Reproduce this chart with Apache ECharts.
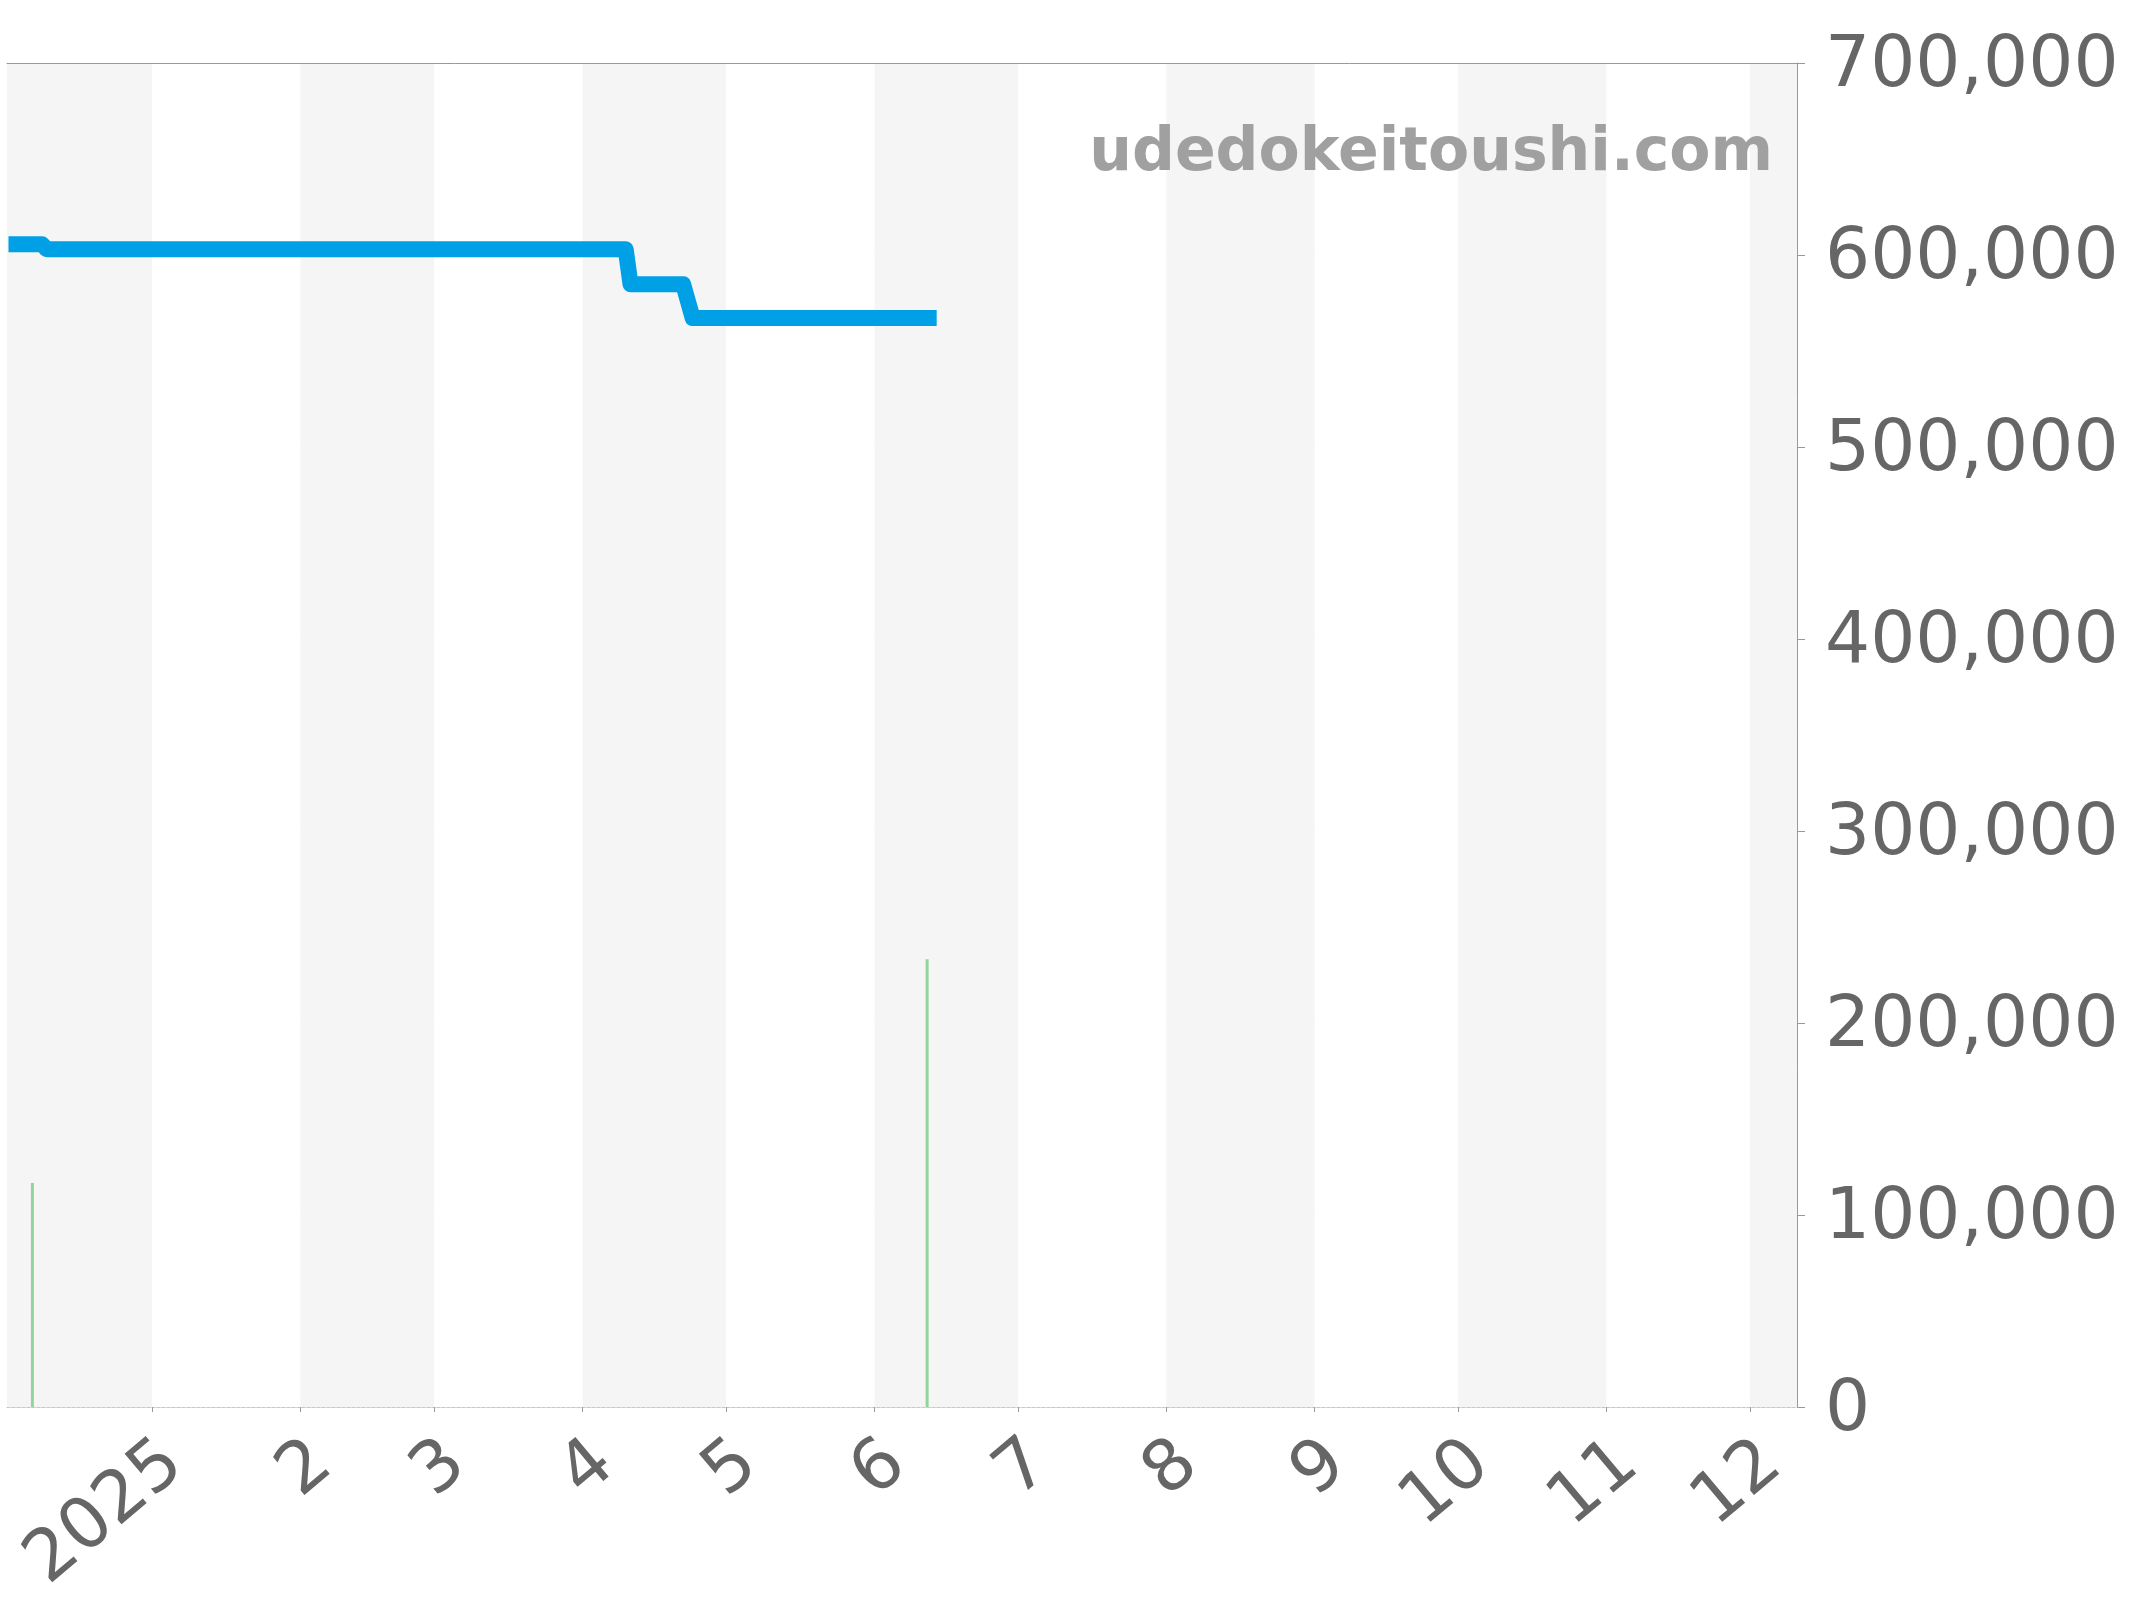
<!DOCTYPE html>
<html>
<head>
<meta charset="utf-8">
<script src="https://cdn.jsdelivr.net/npm/echarts@6/dist/echarts.min.js"></script>
<style>
html,body{margin:0;padding:0;background:#fff;}
#chart{width:2144px;height:1600px;}
</style>
</head>
<body>
<div id="chart"></div>
<script>
// ---- data ----
const PRICE_DATES = ['2024-12-02','2024-12-09','2024-12-10','2025-04-10','2025-04-11','2025-04-22','2025-04-24','2025-06-14'];
const PRICE_VALUES = [605600, 605600, 603000, 603000, 584800, 584800, 567200, 567200];
const VOLUME_DATES = ['2024-12-07','2025-06-12'];
const VOLUME_VALUES = [116700, 233200];
const X_MIN = '2024-12-02';
const X_MAX = '2025-12-10 12:00';
const X_TICK_LABELS = ['2025','2','3','4','5','6','7','8','9','10','11','12'];
const Y_MIN = 0, Y_MAX = 700000, Y_STEP = 100000;
const WATERMARK = 'udedokeitoushi.com';

const FONT = 'DejaVu Sans';
const chart = echarts.init(document.getElementById('chart'), null, {renderer: 'canvas'});

const priceData = PRICE_DATES.map((d, i) => [d, PRICE_VALUES[i]]);
const volumeData = VOLUME_DATES.map((d, i) => [d, VOLUME_VALUES[i]]);

chart.setOption({
  animation: false,
  backgroundColor: '#ffffff',
  grid: {left: 7, right: 347, top: 63, bottom: 193, containLabel: false, outerBoundsMode: 'none'},
  xAxis: [{
    type: 'time',
    min: X_MIN,
    max: X_MAX,
    splitNumber: 12,
    axisLine: {show: true, lineStyle: {color: '#a8dcb0', width: 1, type: [3, 2]}},
    axisTick: {show: true, length: 5, lineStyle: {color: '#999'}},
    axisLabel: {
      show: true,
      rotate: 40,
      align: 'right',
      verticalAlign: 'top',
      margin: 21,
      fontSize: 71,
      fontFamily: FONT,
      color: '#666',
      hideOverlap: false,
      showMinLabel: false,
      showMaxLabel: false,
      formatter: function (val) {
        const d = new Date(val);
        if (d.getDate() !== 1) return '';
        return X_TICK_LABELS[d.getMonth()];
      }
    },
    splitLine: {show: false},
    splitArea: {show: true, areaStyle: {color: ['#f5f5f5', '#ffffff']}}
  }, {
    type: 'time',
    position: 'top',
    min: X_MIN,
    max: X_MAX,
    axisLine: {show: true, lineStyle: {color: '#999', width: 1}},
    axisTick: {show: false},
    axisLabel: {show: false},
    splitLine: {show: false},
    splitArea: {show: false}
  }],
  yAxis: {
    type: 'value',
    position: 'right',
    min: Y_MIN,
    max: Y_MAX,
    interval: Y_STEP,
    axisLine: {show: true, lineStyle: {color: '#999', width: 1}},
    axisTick: {show: true, length: 8, lineStyle: {color: '#999'}},
    axisLabel: {
      fontSize: 71,
      fontFamily: FONT,
      color: '#666',
      margin: 28,
      formatter: v => '{v|' + Number(v).toLocaleString('en-US') + '}',
      rich: {
        v: {
          fontSize: 71,
          fontFamily: FONT,
          color: '#666',
          padding: [9, 0, 0, 0]
        }
      }
    },
    splitLine: {show: true, lineStyle: {color: '#e6e6e6', width: 1}},
    splitArea: {show: false}
  },
  graphic: [{
    type: 'text',
    x: 1773,
    y: 154,
    z: 100,
    style: {
      text: WATERMARK,
      font: 'bold 60px "DejaVu Sans"',
      fill: '#a0a0a0',
      textAlign: 'right',
      textVerticalAlign: 'middle'
    }
  }],
  series: [{
    type: 'bar',
    name: 'volume',
    data: volumeData,
    barWidth: 3,
    itemStyle: {color: '#8fd69b'},
    silent: true
  }, {
    type: 'line',
    name: 'price',
    data: priceData,
    showSymbol: false,
    symbol: 'none',
    lineStyle: {color: '#00a0e6', width: 16, join: 'round', cap: 'butt'},
    z: 5,
    silent: true
  }]
});
</script>
</body>
</html>
